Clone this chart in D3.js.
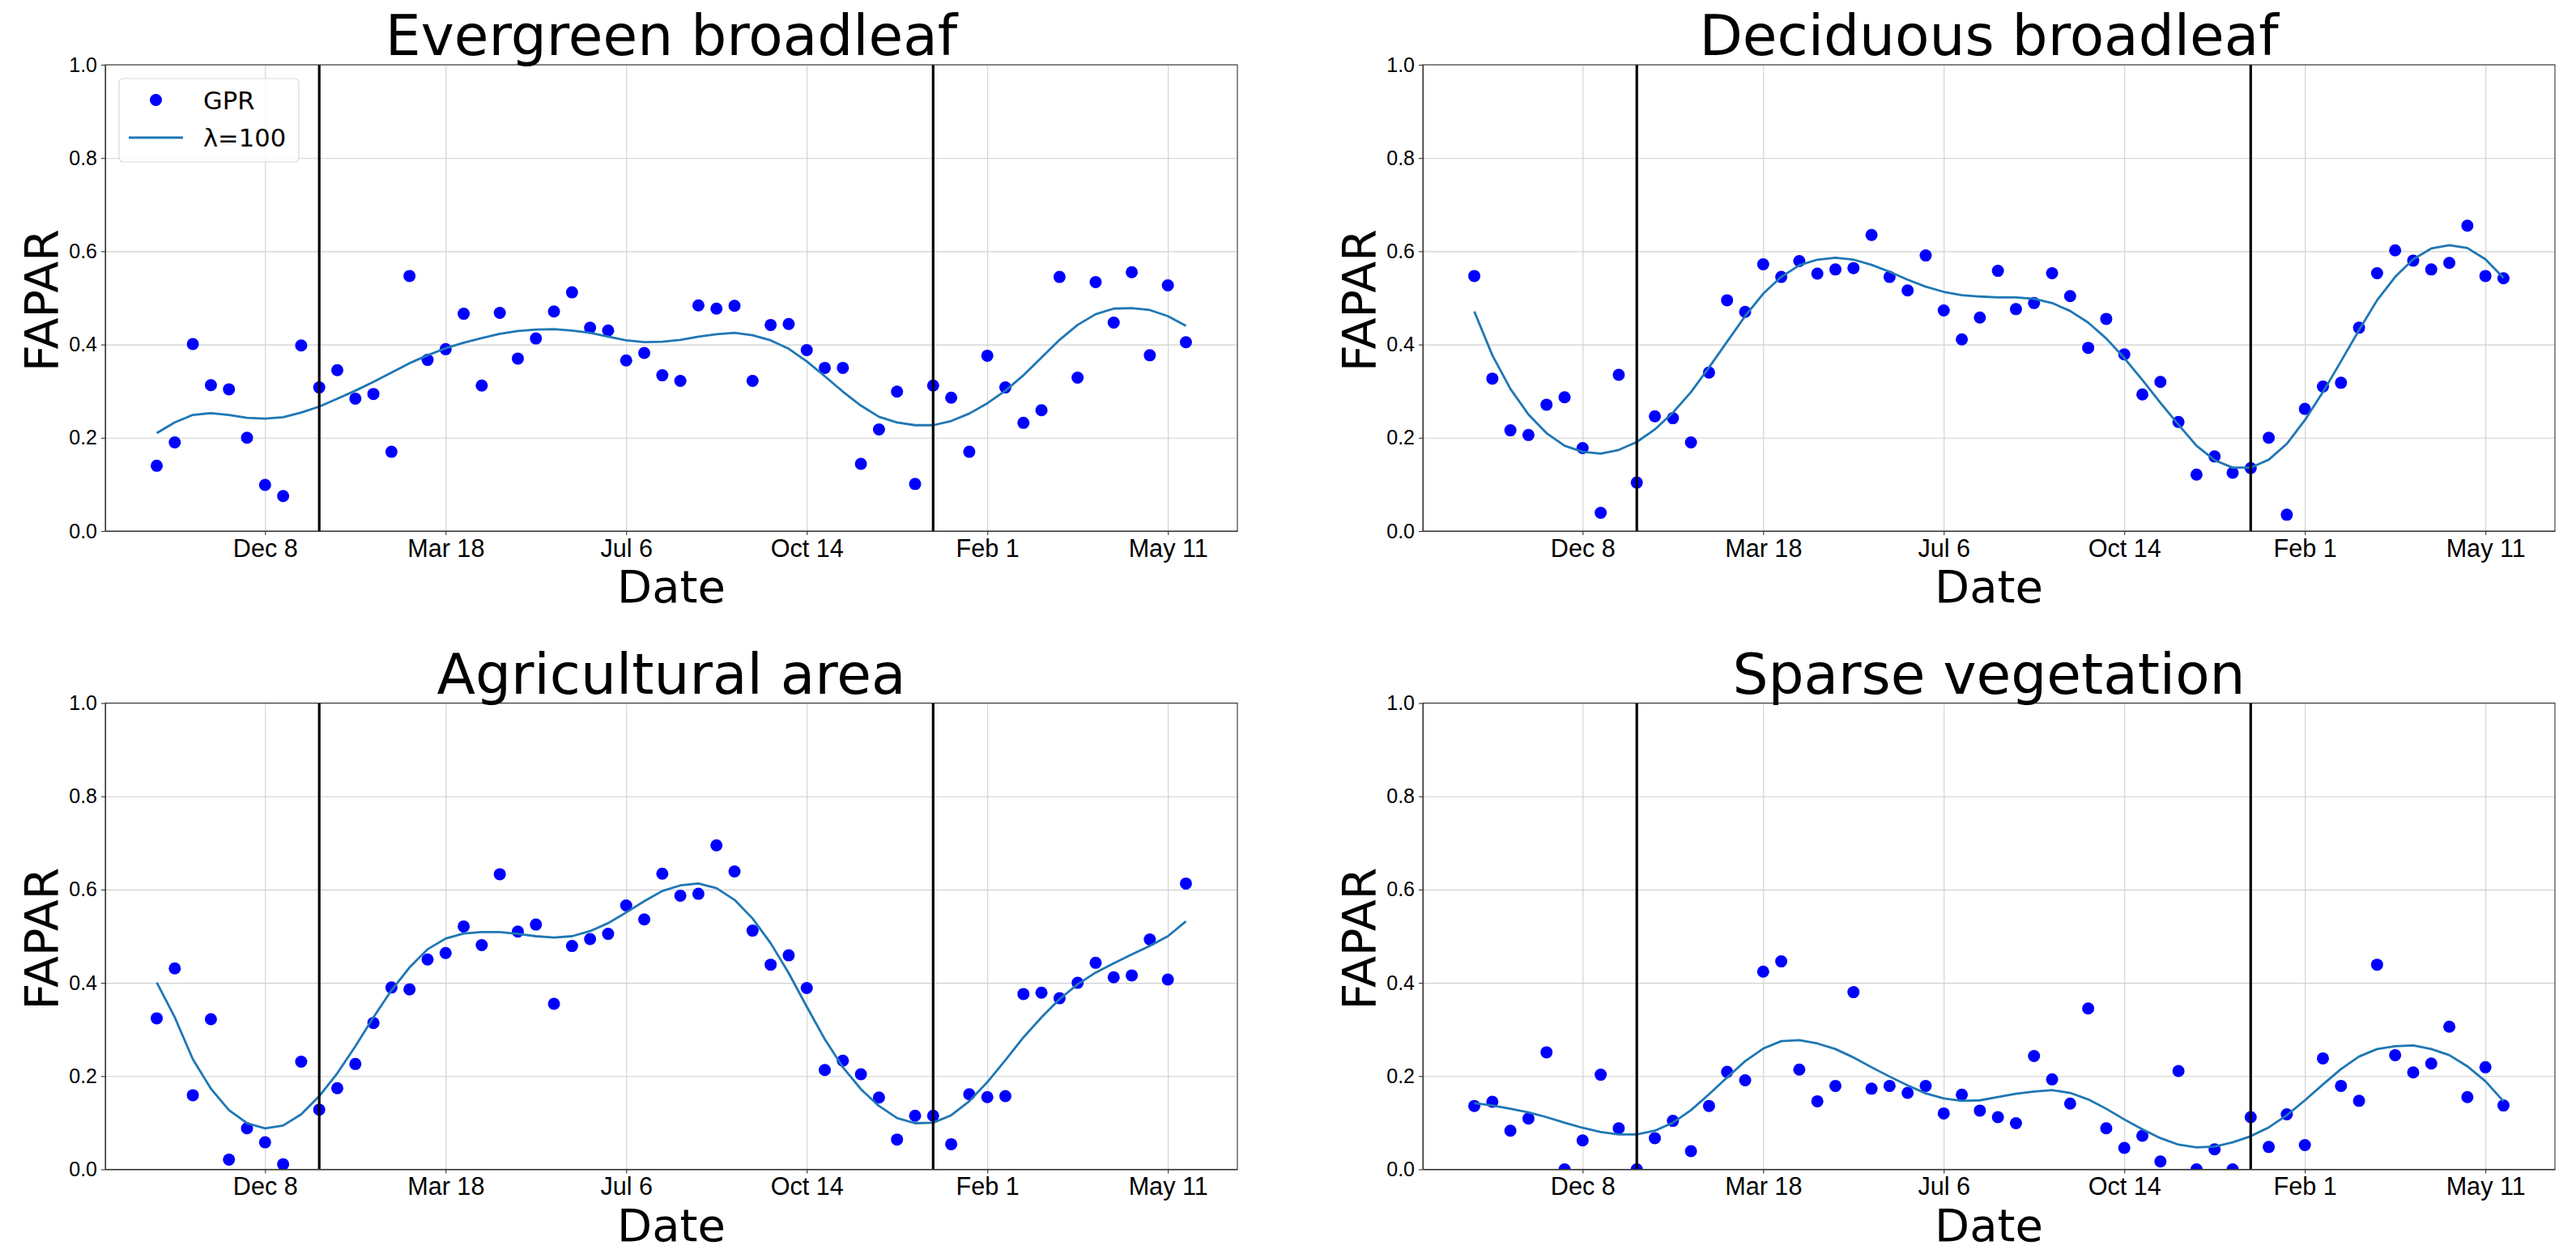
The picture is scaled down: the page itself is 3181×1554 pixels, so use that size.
<!DOCTYPE html>
<html>
<head>
<meta charset="utf-8">
<script src="https://cdn.jsdelivr.net/npm/d3@7"></script>
<style>
  html, body { margin: 0; padding: 0; background: #fff; }
  svg { display: block; font-family: "DejaVu Sans", sans-serif; }
  .grid line { stroke: #d0d0d0; stroke-width: 1.1; }
  .grid path { display: none; }
  .axis path, .axis line { stroke: #333; stroke-width: 1.1; }
  .axis text { fill: #000; }
</style>
</head>
<body>
<script>
// sample index (one GPR point per composite), ticks every 10 samples
var tickIdx = [6, 16, 26, 36, 46, 56];
var tickLabels = ["Dec 8", "Mar 18", "Jul 6", "Oct 14", "Feb 1", "May 11"];
var seasonBreaks = [9, 43];
var yTicks = [0, 0.2, 0.4, 0.6, 0.8, 1.0];

var evergreenGpr = [0.140, 0.190, 0.401, 0.313, 0.304, 0.200, 0.099, 0.075, 0.398, 0.308,
    0.345, 0.284, 0.294, 0.170, 0.547, 0.367, 0.390, 0.466, 0.312, 0.468,
    0.370, 0.413, 0.471, 0.512, 0.436, 0.430, 0.366, 0.382, 0.334, 0.322,
    0.484, 0.477, 0.483, 0.322, 0.442, 0.444, 0.388, 0.350, 0.350, 0.144,
    0.218, 0.299, 0.101, 0.312, 0.286, 0.170, 0.376, 0.308, 0.232, 0.259,
    0.545, 0.329, 0.534, 0.447, 0.555, 0.377, 0.527, 0.405];
var evergreenFit = [0.210, 0.233, 0.249, 0.253, 0.249, 0.243, 0.241, 0.244, 0.254, 0.267,
    0.284, 0.301, 0.320, 0.340, 0.360, 0.377, 0.392, 0.404, 0.414, 0.423,
    0.429, 0.432, 0.433, 0.430, 0.425, 0.417, 0.409, 0.405, 0.406, 0.410,
    0.417, 0.422, 0.425, 0.420, 0.409, 0.391, 0.364, 0.332, 0.299, 0.269,
    0.245, 0.233, 0.227, 0.227, 0.236, 0.252, 0.274, 0.301, 0.334, 0.372,
    0.410, 0.442, 0.465, 0.477, 0.478, 0.474, 0.461, 0.440];

var deciduousGpr = [0.547, 0.327, 0.216, 0.206, 0.271, 0.287, 0.178, 0.039, 0.335, 0.104,
    0.246, 0.242, 0.190, 0.340, 0.495, 0.470, 0.572, 0.545, 0.579, 0.552,
    0.561, 0.564, 0.635, 0.545, 0.516, 0.591, 0.473, 0.411, 0.458, 0.558,
    0.476, 0.489, 0.553, 0.504, 0.393, 0.455, 0.379, 0.293, 0.320, 0.234,
    0.121, 0.160, 0.125, 0.135, 0.200, 0.035, 0.262, 0.310, 0.318, 0.436,
    0.553, 0.602, 0.580, 0.561, 0.575, 0.655, 0.547, 0.542];
var deciduousFit = [0.471, 0.377, 0.305, 0.250, 0.210, 0.183, 0.170, 0.166, 0.174, 0.191,
    0.218, 0.254, 0.298, 0.351, 0.406, 0.461, 0.509, 0.545, 0.570, 0.582,
    0.586, 0.582, 0.571, 0.556, 0.539, 0.524, 0.513, 0.506, 0.503, 0.501,
    0.501, 0.498, 0.489, 0.472, 0.447, 0.413, 0.371, 0.324, 0.275, 0.228,
    0.183, 0.152, 0.136, 0.136, 0.153, 0.187, 0.238, 0.298, 0.364, 0.431,
    0.495, 0.545, 0.583, 0.606, 0.613, 0.607, 0.583, 0.543];

var agriGpr = [0.324, 0.431, 0.159, 0.322, 0.021, 0.088, 0.058, 0.011, 0.231, 0.128,
    0.174, 0.226, 0.314, 0.390, 0.386, 0.450, 0.464, 0.521, 0.481, 0.633,
    0.510, 0.525, 0.355, 0.479, 0.494, 0.505, 0.566, 0.536, 0.634, 0.587,
    0.591, 0.695, 0.639, 0.512, 0.439, 0.459, 0.389, 0.213, 0.233, 0.204,
    0.154, 0.064, 0.115, 0.115, 0.054, 0.161, 0.155, 0.157, 0.376, 0.379,
    0.367, 0.400, 0.443, 0.412, 0.416, 0.493, 0.407, 0.613];
var agriFit = [0.401, 0.326, 0.236, 0.173, 0.127, 0.099, 0.088, 0.094, 0.118, 0.157,
    0.206, 0.264, 0.326, 0.384, 0.433, 0.472, 0.495, 0.506, 0.509, 0.509,
    0.505, 0.500, 0.497, 0.500, 0.511, 0.528, 0.551, 0.575, 0.597, 0.609,
    0.613, 0.603, 0.578, 0.538, 0.485, 0.421, 0.349, 0.279, 0.219, 0.172,
    0.136, 0.110, 0.099, 0.100, 0.116, 0.146, 0.187, 0.234, 0.283, 0.326,
    0.365, 0.397, 0.422, 0.442, 0.461, 0.479, 0.500, 0.532];

var sparseGpr = [0.136, 0.145, 0.083, 0.109, 0.251, 0.000, 0.062, 0.203, 0.088, 0.000,
    0.067, 0.104, 0.039, 0.136, 0.209, 0.191, 0.424, 0.446, 0.214, 0.146,
    0.179, 0.380, 0.173, 0.179, 0.164, 0.179, 0.120, 0.160, 0.126, 0.112,
    0.099, 0.243, 0.193, 0.141, 0.345, 0.088, 0.046, 0.072, 0.017, 0.211,
    0.000, 0.043, 0.000, 0.112, 0.048, 0.118, 0.052, 0.238, 0.179, 0.147,
    0.439, 0.245, 0.208, 0.227, 0.306, 0.155, 0.219, 0.137];
var sparseFit = [0.142, 0.137, 0.130, 0.122, 0.112, 0.100, 0.089, 0.080, 0.075, 0.075,
    0.083, 0.100, 0.127, 0.161, 0.197, 0.232, 0.259, 0.275, 0.277, 0.270,
    0.258, 0.240, 0.219, 0.199, 0.180, 0.163, 0.152, 0.147, 0.148, 0.155,
    0.162, 0.167, 0.170, 0.164, 0.150, 0.130, 0.107, 0.086, 0.067, 0.053,
    0.047, 0.049, 0.058, 0.071, 0.090, 0.116, 0.148, 0.182, 0.215, 0.242,
    0.258, 0.264, 0.266, 0.258, 0.245, 0.221, 0.189, 0.146];

var W = 3181, H = 1554;
var pw = 1398, ph = 576;

var panels = [
    {title: "Evergreen broadleaf", x: 130, y: 80, gpr: evergreenGpr, fit: evergreenFit, legend: true},
    {title: "Deciduous broadleaf", x: 1757, y: 80, gpr: deciduousGpr, fit: deciduousFit},
    {title: "Agricultural area", x: 130, y: 868.5, gpr: agriGpr, fit: agriFit},
    {title: "Sparse vegetation", x: 1757, y: 868.5, gpr: sparseGpr, fit: sparseFit}
];

var svg = d3.select("body").append("svg")
    .attr("width", W)
    .attr("height", H);

var n = evergreenGpr.length;
var pad = (n - 1) * 0.05;

var xScale = d3.scaleLinear().domain([-pad, n - 1 + pad]).range([0, pw]);
var yScale = d3.scaleLinear().domain([0, 1]).range([ph, 0]);

var fitLine = d3.line()
    .x(function(d, i) { return xScale(i); })
    .y(function(d) { return yScale(d); });

panels.forEach(function(p, k) {
    var g = svg.append("g")
        .attr("transform", "translate(" + p.x + "," + p.y + ")");

    g.append("clipPath")
        .attr("id", "clip" + k)
        .append("rect")
        .attr("width", pw)
        .attr("height", ph);

    // gridlines
    g.append("g")
        .attr("class", "grid")
        .attr("transform", "translate(0," + ph + ")")
        .call(d3.axisBottom(xScale).tickValues(tickIdx).tickSize(-ph).tickFormat(""));
    g.append("g")
        .attr("class", "grid")
        .call(d3.axisLeft(yScale).tickValues(yTicks).tickSize(-pw).tickFormat(""));

    var plot = g.append("g").attr("clip-path", "url(#clip" + k + ")");

    plot.selectAll(".dot")
        .data(p.gpr)
        .enter()
        .append("circle")
        .attr("class", "dot")
        .attr("cx", function(d, i) { return xScale(i); })
        .attr("cy", function(d) { return yScale(d); })
        .attr("r", 7.5)
        .style("fill", "#0000ff");

    plot.append("path")
        .datum(p.fit)
        .attr("d", fitLine)
        .style("fill", "none")
        .style("stroke", "#1f77b4")
        .style("stroke-width", 2.8)
        .style("stroke-linejoin", "round");

    plot.selectAll(".brk")
        .data(seasonBreaks)
        .enter()
        .append("line")
        .attr("class", "brk")
        .attr("x1", function(d) { return xScale(d); })
        .attr("x2", function(d) { return xScale(d); })
        .attr("y1", 0)
        .attr("y2", ph)
        .style("stroke", "#000")
        .style("stroke-width", 3.2);

    // axes
    var xAxis = d3.axisBottom(xScale)
        .tickValues(tickIdx)
        .tickSizeInner(5).tickSizeOuter(0).tickPadding(5)
        .tickFormat(function(d, i) { return tickLabels[i]; });
    var yAxis = d3.axisLeft(yScale)
        .tickValues(yTicks)
        .tickSizeInner(5).tickSizeOuter(0).tickPadding(5)
        .tickFormat(d3.format(".1f"));

    g.append("g")
        .attr("class", "x axis")
        .attr("transform", "translate(0," + ph + ")")
        .call(xAxis)
        .selectAll("text")
        .style("font-size", "30.6px");

    g.append("g")
        .attr("class", "y axis")
        .call(yAxis)
        .selectAll("text")
        .style("font-size", "25px");

    // frame
    g.append("rect")
        .attr("width", pw)
        .attr("height", ph)
        .style("fill", "none")
        .style("stroke", "#333")
        .style("stroke-width", 1.1);

    // labels
    g.append("text")
        .attr("x", pw / 2)
        .attr("y", -12)
        .attr("text-anchor", "middle")
        .style("font-size", "69.4px")
        .text(p.title);

    g.append("text")
        .attr("x", pw / 2)
        .attr("y", ph + 88)
        .attr("text-anchor", "middle")
        .style("font-size", "56px")
        .text("Date");

    g.append("text")
        .attr("text-anchor", "middle")
        .attr("transform", "translate(-58," + (ph / 2 + 3) + ")rotate(-90)")
        .style("font-size", "57px")
        .text("FAPAR");

    if (p.legend) {
        var lg = g.append("g").attr("transform", "translate(17,17)");
        lg.append("rect")
            .attr("width", 222)
            .attr("height", 103)
            .attr("rx", 5)
            .style("fill", "#fff")
            .style("fill-opacity", 0.8)
            .style("stroke", "#d9d9d9")
            .style("stroke-width", 1.2);
        lg.append("circle")
            .attr("cx", 45.5)
            .attr("cy", 26.5)
            .attr("r", 7.5)
            .style("fill", "#0000ff");
        lg.append("line")
            .attr("x1", 12).attr("x2", 79)
            .attr("y1", 73).attr("y2", 73)
            .style("stroke", "#1f77b4")
            .style("stroke-width", 2.8);
        lg.append("text")
            .attr("x", 104).attr("y", 26.5)
            .attr("dy", "0.36em")
            .style("font-size", "30.6px")
            .text("GPR");
        lg.append("text")
            .attr("x", 104).attr("y", 73)
            .attr("dy", "0.36em")
            .style("font-size", "30.6px")
            .text("λ=100");
    }
});
</script>
</body>
</html>
